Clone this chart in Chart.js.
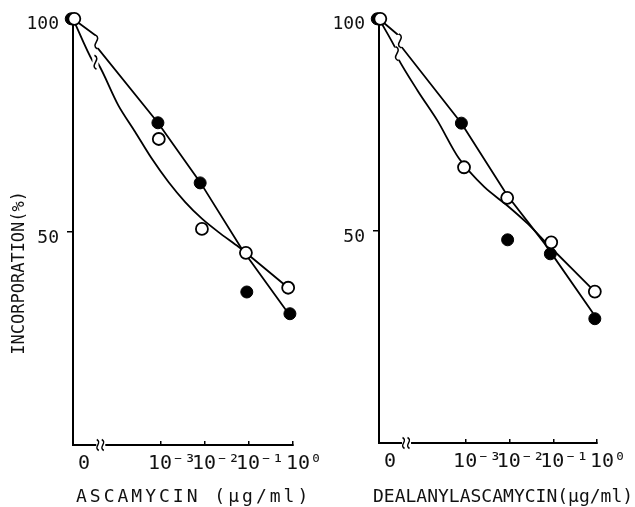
<!DOCTYPE html>
<html>
<head>
<meta charset="utf-8">
<script src="https://cdn.jsdelivr.net/npm/chart.js@4.4.0/dist/chart.umd.min.js"></script>
<style>
  body { margin: 0; background: #fff; }
  #wrap { position: relative; width: 635px; height: 507px; overflow: hidden; }
  canvas { position: absolute; top: 0; }
</style>
</head>
<body>
<div id="wrap">
  <canvas id="left" width="340" height="507" style="left:0px"></canvas>
  <canvas id="right" width="335" height="507" style="left:300px"></canvas>
</div>
<script>
// x is log10 of the dose as drawn; the "0" dose sits at -5
const xTickValues = [-5, -3, -2, -1, 0];
const xTickLabels = ['0', '10⁻³', '10⁻²', '10⁻¹', '10⁰'];
const yTickValues = [50, 100];
const axisBreak = -4.38;

// ascamycin
const ascFilledX = [-5.04, -3.07, -2.11, -1.05, -0.07];
const ascFilledY = [100, 75.6, 61.5, 35.9, 30.8];
const ascOpenX = [-4.97, -3.05, -2.07, -1.07, -0.11];
const ascOpenY = [100, 71.8, 50.7, 45.1, 36.9];
const ascLineAX = [-5, -4.5, -4.43, -3.07, -2.1, -1.17, -0.1];
const ascLineAY = [100, 96.2, 93.0, 75.6, 61.5, 46.1, 30.8];
const ascLineBX = [-5, -4.55, -4.43, -3.97, -3.59, -3.21, -2.83, -2.45, -2.07, -1.7, -1.24, -1.07, -0.11];
const ascLineBY = [100, 90, 89.5, 79.7, 73.5, 67.2, 61.7, 57.0, 53.1, 50.0, 46.5, 45.1, 36.9];
const ascBreaks = [[-4.47, 94.6], [-4.49, 89.8]];

// dealanylascamycin
const dealFilledX = [-5.04, -3.11, -2.05, -1.07, -0.05];
const dealFilledY = [100, 75.4, 47.9, 44.6, 29.3];
const dealOpenX = [-4.97, -3.05, -2.06, -1.05, -0.05];
const dealOpenY = [100, 65.0, 57.8, 47.3, 35.7];
const dealLineAX = [-5, -4.54, -4.5, -3.11, -2.06, -1.2, -0.09];
const dealLineAY = [100, 96.0, 93.6, 75.4, 58.4, 47.0, 30.6];
const dealLineBX = [-5, -4.61, -4.57, -4.11, -3.66, -3.16, -2.58, -2.06, -1.59, -1.1, -0.05];
const dealLineBY = [100, 92.8, 90.8, 83.0, 76.0, 67.0, 60.3, 56.0, 51.7, 46.5, 35.7];
const dealBreaks = [[-4.52, 94.8], [-4.59, 91.8]];

const mono = "'DejaVu Sans Mono', monospace";
const pts = (xs, ys) => xs.map((x, i) => ({x: x, y: ys[i]}));

function squiggle(ctx, x, y, h) {
    ctx.beginPath();
    ctx.moveTo(x - 1, y - h / 2);
    ctx.bezierCurveTo(x + h * 0.45, y - h / 5, x - h * 0.45, y + h / 5, x + 1, y + h / 2);
    ctx.stroke();
}

function makeChart(id, d) {
    const extras = {
        id: 'extras',
        afterDraw(chart) {
            const ctx = chart.ctx, x = chart.scales.x, y = chart.scales.y;
            ctx.save();
            ctx.strokeStyle = '#000';
            ctx.fillStyle = '#fff';
            ctx.lineWidth = 1.5;
            // axis break and curve breaks
            const bx = x.getPixelForValue(axisBreak), by = y.getPixelForValue(0);
            ctx.fillRect(bx - 4, by - 3, 9, 6);
            squiggle(ctx, bx - 2.5, by, 11);
            squiggle(ctx, bx + 2.5, by, 11);
            d.breaks.forEach(b => {
                const px = x.getPixelForValue(b[0]), py = y.getPixelForValue(b[1]);
                ctx.fillRect(px - 3, py - 6, 6, 12);
                squiggle(ctx, px, py, 14);
            });
            // x axis title (drawn here so it can run past the plot width like the original)
            ctx.fillStyle = '#111';
            ctx.font = '18px ' + mono;
            ctx.letterSpacing = d.spacing;
            ctx.textAlign = 'left';
            ctx.textBaseline = 'middle';
            ctx.fillText(d.xTitle, chart.chartArea.left + d.titleShift, 497);
            ctx.restore();
        }
    };
    return new Chart(document.getElementById(id), {
        type: 'scatter',
        data: {
            datasets: [
                { data: pts(d.openX, d.openY), pointRadius: 6, pointBackgroundColor: '#fff', pointBorderColor: '#000', pointBorderWidth: 1.8, clip: false },
                { data: pts(d.fillX, d.fillY), pointRadius: 6, pointBackgroundColor: '#000', pointBorderColor: '#000', pointBorderWidth: 1, clip: false },
                { data: pts(d.lineAX, d.lineAY), showLine: true, pointRadius: 0, borderColor: '#000', borderWidth: 1.8, tension: 0, clip: false },
                { data: pts(d.lineBX, d.lineBY), showLine: true, pointRadius: 0, borderColor: '#000', borderWidth: 1.8, tension: 0.3, clip: false }
            ]
        },
        options: {
            responsive: false,
            animation: false,
            layout: { padding: d.padding },
            plugins: { legend: { display: false }, tooltip: { enabled: false } },
            scales: {
                x: {
                    type: 'linear', min: -5, max: 0,
                    afterBuildTicks: s => { s.ticks = xTickValues.map(v => ({value: v})); },
                    afterFit: s => { s.height = d.xHeight; },
                    grid: { drawOnChartArea: false, tickLength: -4, color: '#000', lineWidth: 1.5 },
                    border: { color: '#000', width: 2 },
                    ticks: {
                        autoSkip: false, maxRotation: 0, padding: 11, labelOffset: 11,
                        color: '#111', font: { family: mono, size: 20 },
                        callback: v => xTickLabels[xTickValues.indexOf(v)]
                    }
                },
                y: {
                    min: 0, max: 100,
                    afterBuildTicks: s => { s.ticks = yTickValues.map(v => ({value: v})); },
                    afterFit: s => { s.width = d.yWidth; },
                    grid: { drawOnChartArea: false, tickLength: 6, color: '#000', lineWidth: 1.5 },
                    border: { color: '#000', width: 2 },
                    ticks: { padding: 8, labelOffset: 6, color: '#111', font: { family: mono, size: 18 } },
                    title: { display: !!d.yTitle, text: d.yTitle, color: '#111', font: { family: mono, size: 17 }, padding: { top: 9, bottom: 0 } }
                }
            }
        },
        plugins: [extras]
    });
}

makeChart('left', {
    fillX: ascFilledX, fillY: ascFilledY, openX: ascOpenX, openY: ascOpenY,
    lineAX: ascLineAX, lineAY: ascLineAY, lineBX: ascLineBX, lineBY: ascLineBY,
    breaks: ascBreaks,
    xTitle: 'ASCAMYCIN (μg/ml)', yTitle: 'INCORPORATION(%)        ',
    spacing: '3px', titleShift: 3,
    padding: { left: 0, top: 16, right: 47, bottom: 0 }, yWidth: 73, xHeight: 62
});

makeChart('right', {
    fillX: dealFilledX, fillY: dealFilledY, openX: dealOpenX, openY: dealOpenY,
    lineAX: dealLineAX, lineAY: dealLineAY, lineBX: dealLineBX, lineBY: dealLineBY,
    breaks: dealBreaks,
    xTitle: 'DEALANYLASCAMYCIN(μg/ml)', yTitle: '',
    spacing: '0px', titleShift: -6,
    padding: { left: 0, top: 16, right: 38, bottom: 0 }, yWidth: 79, xHeight: 64
});
</script>
</body>
</html>
